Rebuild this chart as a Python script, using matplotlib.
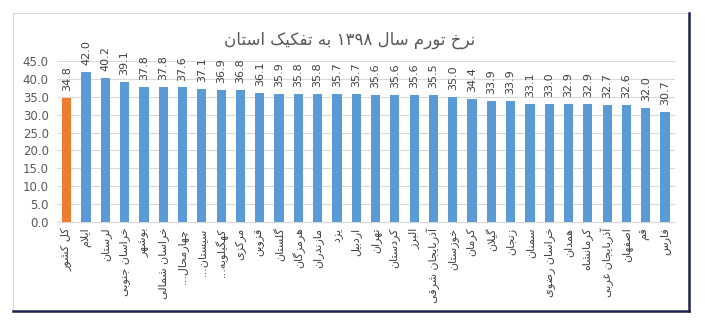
import numpy as np
import matplotlib
matplotlib.use('Agg')
import matplotlib.pyplot as plt
from matplotlib.patches import Rectangle
from matplotlib.lines import Line2D

title = 'نرخ تورم سال ۱۳۹۸ به تفکیک استان'

provinces = ['کل کشور', 'ایلام', 'لرستان', 'خراسان جنوبی', 'بوشهر', 'خراسان شمالی',
             'چهارمحال...', 'سیستان...', 'کهگیلویه...', 'مرکزی', 'قزوین', 'گلستان',
             'هرمزگان', 'مازندران', 'یزد', 'اردبیل', 'تهران', 'کردستان', 'البرز',
             'آذربایجان شرقی', 'خوزستان', 'کرمان', 'گیلان', 'زنجان', 'سمنان',
             'خراسان رضوی', 'همدان', 'کرمانشاه', 'آذربایجان غربی', 'اصفهان', 'قم', 'فارس']
inflation = [34.8, 42.0, 40.2, 39.1, 37.8, 37.8, 37.6, 37.1, 36.9, 36.8, 36.1, 35.9,
             35.8, 35.8, 35.7, 35.7, 35.6, 35.6, 35.6, 35.5, 35.0, 34.4, 33.9, 33.9,
             33.1, 33.0, 32.9, 32.9, 32.7, 32.6, 32.0, 30.7]

# matplotlib has no arabic shaping, so do it by hand (presentation forms + reverse)
forms = {
    'ا': (0xFE8D, 0xFE8E), 'آ': (0xFE81, 0xFE82),
    'د': (0xFEA9, 0xFEAA), 'ذ': (0xFEAB, 0xFEAC),
    'ر': (0xFEAD, 0xFEAE), 'ز': (0xFEAF, 0xFEB0),
    'و': (0xFEED, 0xFEEE), 'ژ': (0xFB8A, 0xFB8B),
    'ب': (0xFE8F, 0xFE90, 0xFE91, 0xFE92), 'ت': (0xFE95, 0xFE96, 0xFE97, 0xFE98),
    'ج': (0xFE9D, 0xFE9E, 0xFE9F, 0xFEA0), 'ح': (0xFEA1, 0xFEA2, 0xFEA3, 0xFEA4),
    'خ': (0xFEA5, 0xFEA6, 0xFEA7, 0xFEA8), 'س': (0xFEB1, 0xFEB2, 0xFEB3, 0xFEB4),
    'ش': (0xFEB5, 0xFEB6, 0xFEB7, 0xFEB8), 'ص': (0xFEB9, 0xFEBA, 0xFEBB, 0xFEBC),
    'ض': (0xFEBD, 0xFEBE, 0xFEBF, 0xFEC0), 'غ': (0xFECD, 0xFECE, 0xFECF, 0xFED0),
    'ف': (0xFED1, 0xFED2, 0xFED3, 0xFED4), 'ق': (0xFED5, 0xFED6, 0xFED7, 0xFED8),
    'ک': (0xFB8E, 0xFB8F, 0xFB90, 0xFB91), 'گ': (0xFB92, 0xFB93, 0xFB94, 0xFB95),
    'ل': (0xFEDD, 0xFEDE, 0xFEDF, 0xFEE0), 'م': (0xFEE1, 0xFEE2, 0xFEE3, 0xFEE4),
    'ن': (0xFEE5, 0xFEE6, 0xFEE7, 0xFEE8), 'ه': (0xFEE9, 0xFEEA, 0xFEEB, 0xFEEC),
    'ی': (0xFBFC, 0xFBFD, 0xFBFE, 0xFBFF), 'چ': (0xFB7A, 0xFB7B, 0xFB7C, 0xFB7D),
    'پ': (0xFB56, 0xFB57, 0xFB58, 0xFB59),
}
lam_alef = {'ا': (0xFEFB, 0xFEFC), 'آ': (0xFEF5, 0xFEF6)}


def shape(s):
    out = []
    i = 0
    while i < len(s):
        c = s[i]
        if c not in forms:
            out.append(c)
            i += 1
            continue
        prev = s[i - 1] if i > 0 else ''
        joins_prev = prev in forms and len(forms[prev]) == 4
        if c == 'ل' and i + 1 < len(s) and s[i + 1] in lam_alef:
            f = lam_alef[s[i + 1]]
            out.append(chr(f[1] if joins_prev else f[0]))
            i += 2
            continue
        nxt = s[i + 1] if i + 1 < len(s) else ''
        f = forms[c]
        joins_next = len(f) == 4 and nxt in forms
        if joins_prev and joins_next:
            g = f[3]
        elif joins_prev:
            g = f[1]
        elif joins_next:
            g = f[2]
        else:
            g = f[0]
        out.append(chr(g))
        i += 1
    # visual order: reverse, but keep digit runs left to right
    runs, cur = [], ''
    for ch in out:
        if ch.isdigit():
            cur += ch
        else:
            if cur:
                runs.append(cur)
                cur = ''
            runs.append(ch)
    if cur:
        runs.append(cur)
    return ''.join(runs[::-1])


plt.rcParams['font.family'] = ['DejaVu Sans']

fig = plt.figure(figsize=(7.05, 3.28), dpi=100)
ax = fig.add_axes([0.081, 0.323, 0.876, 0.491])

x = np.arange(len(provinces))
colors = ['#ED7D31'] + ['#5B9BD5'] * (len(provinces) - 1)
ax.bar(x, inflation, width=0.48, color=colors, zorder=3)

for xi, v in zip(x, inflation):
    ax.annotate('%.1f' % v, (xi, v), xytext=(0, 5), textcoords='offset points',
                rotation=90, ha='center', va='bottom', fontsize=8, color='#404040',
                annotation_clip=False)

ax.set_xlim(-0.5, len(provinces) - 0.5)
ax.set_ylim(0, 45)
ax.set_yticks(np.arange(0, 46, 5))
ax.set_yticklabels(['%.1f' % t for t in np.arange(0, 46, 5)])
ax.set_xticks(x)
ax.set_xticklabels([shape(p) for p in provinces], rotation=90, fontsize=8, color='#404040')
ax.tick_params(axis='y', labelsize=8.5, labelcolor='#595959', length=0, pad=6)
ax.tick_params(axis='x', length=0, pad=4)
ax.grid(axis='y', color='#D9D9D9', linewidth=0.8, zorder=0)
for sp in ['top', 'right', 'left']:
    ax.spines[sp].set_visible(False)
ax.spines['bottom'].set_color('#D9D9D9')

fig.text(350 / 705, 1 - 40 / 328, shape(title), ha='center', va='center',
         fontsize=12, color='#595959')

# chart frame
fig.patches.append(Rectangle((13 / 705, 1 - 311 / 328), 676 / 705, 298 / 328,
                             transform=fig.transFigure, fill=False,
                             edgecolor='#D9D9D9', linewidth=0.8))
fig.lines.append(Line2D([689 / 705, 689 / 705], [1 - 13 / 328, 1 - 311 / 328],
                        transform=fig.transFigure, color='#1F2250', linewidth=1.8))
fig.lines.append(Line2D([13 / 705, 689 / 705], [1 - 311 / 328, 1 - 311 / 328],
                        transform=fig.transFigure, color='#1F2250', linewidth=1.8))

fig.savefig('out.png', dpi=100)
